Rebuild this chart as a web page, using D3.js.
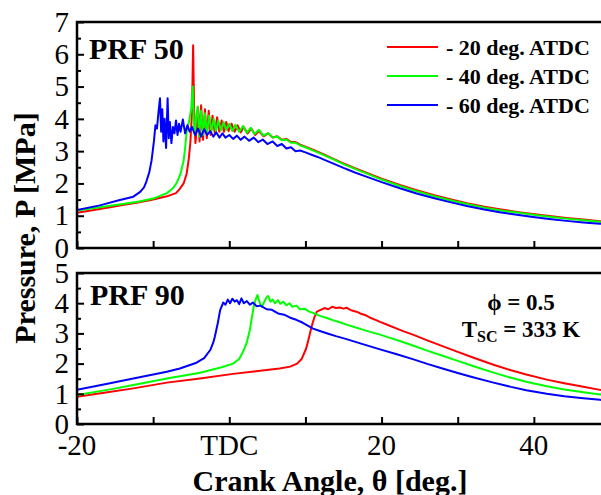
<!DOCTYPE html>
<html>
<head>
  <meta charset="utf-8">
  <style>
    body {
      margin: 0;
      background: #fff;
    }
    svg {
      display: block;
    }
    svg text {
      font-family: 'Liberation Serif', 'Tinos', 'DejaVu Serif', 'Times New Roman', serif;
    }
    .frame {
      fill: none;
      stroke: #000;
      stroke-width: 2.5px;
    }
    .axis path {
      display: none;
    }
    .axis line {
      stroke: #000;
      stroke-width: 2px;
    }
    .axis text {
      font-size: 29px;
      fill: #000;
    }
    .trace {
      fill: none;
      stroke-width: 2px;
      stroke-linejoin: round;
    }
    .lab {
      font-weight: bold;
      fill: #000;
    }
  </style>
</head>
<body>
  <script src="https://cdn.jsdelivr.net/npm/d3@7"></script>
  <script>

  // data: [crank angle (deg), pressure (MPa)]
  var seriesLabels = ["- 20 deg. ATDC", "- 40 deg. ATDC", "- 60 deg. ATDC"]

  var prf50_20 = [[-20,1.09],[-17,1.21],[-14,1.33],[-12,1.41],[-10,1.50],[-8.2,1.60],[-7,1.70],[-6.5,1.83],[-6,2.0],[-5.6,2.3],[-5.3,2.8],[-5.1,3.3],[-4.9,4.2],[-4.75,6.28],[-4.6,4.0],[-4.45,3.25],[-4.3,3.6],[-4.1,4.35],[-3.9,3.3],[-3.7,4.42],[-3.45,3.35],[-3.2,4.3],[-2.95,3.4],[-2.7,4.25],[-2.45,3.5],[-2.2,4.1],[-1.9,3.55],[-1.6,4.05],[-1.3,3.6],[-1.0,3.95],[-0.7,3.6],[-0.4,3.9],[-0.1,3.62],[0.3,3.85],[0.7,3.6],[1.1,3.8],[1.5,3.58],[1.9,3.75],[2.4,3.55],[2.9,3.7],[3.4,3.5],[3.9,3.62],[4.5,3.46],[5.1,3.55],[5.7,3.42],[6.3,3.46],[6.9,3.35],[7.5,3.38],[8.1,3.28],[8.7,3.28],[9.3,3.2],[10,3.14],[10.8,3.06],[11.6,2.98],[12.5,2.89],[13.6,2.77],[15,2.62],[16.5,2.47],[18,2.33],[20,2.15],[22.4,1.95],[24.6,1.79],[26.8,1.64],[29,1.51],[31.2,1.39],[33.5,1.28],[35.5,1.20],[38,1.11],[39.9,1.05],[42,0.99],[44.3,0.93],[46.5,0.88],[48.7,0.83],[50,0.81]]

  var prf50_40 = [[-20,1.16],[-17,1.26],[-14,1.36],[-12,1.43],[-10,1.53],[-8.2,1.70],[-7.4,1.85],[-6.9,2.02],[-6.4,2.3],[-6.0,2.7],[-5.8,3.1],[-5.6,3.6],[-5.3,3.9],[-5.0,4.3],[-4.8,5.0],[-4.65,3.9],[-4.5,3.5],[-4.35,4.1],[-4.15,4.38],[-3.95,3.45],[-3.7,4.25],[-3.45,3.5],[-3.2,4.17],[-2.95,3.55],[-2.65,4.1],[-2.35,3.6],[-2.05,4.0],[-1.75,3.62],[-1.45,3.95],[-1.1,3.65],[-0.75,3.9],[-0.4,3.66],[0,3.85],[0.4,3.62],[0.8,3.82],[1.3,3.6],[1.8,3.78],[2.3,3.57],[2.8,3.72],[3.3,3.53],[3.9,3.66],[4.5,3.48],[5.1,3.56],[5.7,3.42],[6.3,3.45],[6.9,3.34],[7.5,3.36],[8.1,3.26],[8.7,3.26],[9.3,3.18],[10,3.12],[10.8,3.04],[11.6,2.96],[12.5,2.87],[13.6,2.75],[15,2.60],[16.5,2.45],[18,2.31],[20,2.12],[22.4,1.92],[24.6,1.76],[26.8,1.61],[29,1.48],[31.2,1.36],[33.5,1.25],[35.5,1.17],[38,1.09],[39.9,1.03],[42,0.97],[44.3,0.91],[46.5,0.86],[48.7,0.81],[50,0.79]]

  var prf50_60 = [[-20,1.18],[-17,1.32],[-14.5,1.48],[-12.6,1.59],[-11.7,1.74],[-11.2,1.88],[-10.9,2.05],[-10.5,2.35],[-10.2,2.72],[-9.9,3.3],[-9.7,3.8],[-9.5,3.7],[-9.3,4.2],[-9.1,4.64],[-8.95,3.6],[-8.8,4.3],[-8.65,3.3],[-8.5,4.0],[-8.3,3.1],[-8.1,4.64],[-7.95,3.4],[-7.8,3.9],[-7.6,3.25],[-7.4,3.75],[-7.2,3.55],[-7.0,3.95],[-6.8,3.5],[-6.6,3.85],[-6.4,3.6],[-6.1,3.98],[-5.8,3.55],[-5.5,3.8],[-5.2,3.6],[-4.9,3.75],[-4.5,3.5],[-4.1,3.7],[-3.7,3.45],[-3.3,3.68],[-2.9,3.5],[-2.5,3.62],[-2.1,3.45],[-1.7,3.58],[-1.3,3.42],[-0.9,3.55],[-0.5,3.42],[0,3.5],[0.5,3.38],[1,3.48],[1.5,3.35],[2,3.45],[2.6,3.32],[3.2,3.42],[3.8,3.28],[4.4,3.36],[5,3.22],[5.7,3.3],[6.3,3.16],[6.9,3.22],[7.5,3.08],[8.1,3.12],[8.7,3.0],[9.3,3.02],[10,2.96],[10.8,2.89],[11.6,2.82],[12.5,2.73],[13.6,2.62],[15,2.48],[16.5,2.34],[18,2.21],[20,2.04],[22.4,1.85],[24.6,1.69],[26.8,1.55],[29,1.42],[31.2,1.30],[33.5,1.19],[35.5,1.11],[38,1.02],[39.9,0.96],[42,0.90],[44.3,0.84],[46.5,0.79],[48.7,0.75],[50,0.73]]

  var prf90_20 = [[-20,0.90],[-16,1.05],[-12.6,1.18],[-8.2,1.37],[-3.85,1.51],[0.5,1.66],[4.9,1.79],[6.6,1.84],[8,1.90],[8.9,2.0],[9.5,2.15],[10.1,2.5],[10.5,2.9],[10.8,3.22],[11.2,3.55],[11.5,3.72],[12.0,3.78],[12.5,3.84],[13,3.8],[13.5,3.88],[14,3.84],[14.5,3.86],[15,3.82],[15.4,3.85],[15.9,3.78],[16.3,3.74],[16.7,3.72],[17.2,3.66],[17.8,3.61],[18.5,3.52],[19.2,3.45],[19.8,3.38],[21,3.26],[22,3.16],[23,3.06],[24.2,2.95],[26,2.77],[28,2.58],[30,2.39],[32,2.20],[34.7,1.96],[37,1.78],[39,1.64],[41.7,1.47],[44,1.35],[46.5,1.23],[48.7,1.13],[50,1.08]]

  var prf90_40 = [[-20,0.96],[-16,1.13],[-12.6,1.29],[-8.2,1.51],[-3.85,1.70],[-1,1.88],[0.5,2.0],[1.3,2.15],[1.8,2.39],[2.3,2.7],[2.7,3.11],[3.2,3.88],[3.5,4.15],[3.7,4.27],[3.9,4.1],[4.1,3.95],[4.3,3.88],[4.6,4.05],[4.9,4.2],[5.1,4.24],[5.4,4.05],[5.7,4.12],[6,4.0],[6.4,4.1],[6.7,3.98],[7.1,4.05],[7.5,3.93],[7.9,4.0],[8.3,3.88],[8.8,3.92],[9.3,3.8],[9.9,3.82],[10.5,3.72],[11,3.68],[11.9,3.58],[12.8,3.51],[13.7,3.43],[14.5,3.37],[15.4,3.29],[16.3,3.22],[17.2,3.15],[18.5,3.05],[19.8,2.96],[21,2.86],[22.5,2.74],[24.2,2.59],[26,2.43],[28,2.26],[30,2.09],[32,1.92],[34.7,1.70],[37,1.53],[39,1.40],[41.7,1.25],[44,1.14],[46.5,1.05],[48.7,0.98],[50,0.95]]

  var prf90_60 = [[-20,1.13],[-16,1.33],[-12.6,1.51],[-8.2,1.73],[-6.5,1.84],[-4.3,2.03],[-3.3,2.18],[-2.5,2.45],[-2.1,2.7],[-1.9,2.89],[-1.5,3.35],[-1.2,3.77],[-0.8,4.02],[-0.5,3.95],[-0.2,4.12],[0.1,4.0],[0.4,4.15],[0.7,4.05],[1.0,4.1],[1.3,3.97],[1.6,4.16],[1.9,4.0],[2.3,4.07],[2.7,3.95],[3.1,4.02],[3.6,3.9],[4.1,3.92],[4.9,3.8],[5.6,3.78],[6.4,3.66],[7.2,3.62],[8,3.52],[8.8,3.45],[9.6,3.36],[10.3,3.26],[11,3.16],[12,3.07],[13,2.99],[14,2.91],[15.4,2.81],[17.2,2.67],[19.8,2.47],[22,2.31],[24.2,2.14],[26,1.99],[28,1.84],[30,1.69],[32,1.55],[34.7,1.37],[37,1.23],[39,1.12],[41.7,1.00],[44,0.92],[46.5,0.85],[48.7,0.80],[50,0.77]]

  var xTickVals = [-20, -10, 0, 10, 20, 30, 40, 50]
  var xLabelVals = [-20, 0, 20, 40]
  var xLabelText = ["-20", "TDC", "20", "40"]

  // layout
  var width = 601
  var height = 495
  var left = 77
  var right = 610
  var colors = ["#ff0000", "#00ff00", "#0000ff"]

  var svg = d3.select("body").append("svg")
    .attr("width", width)
    .attr("height", height)

  var x = d3.scaleLinear().domain([-20, 50]).range([left, right])

  function drawPanel(id, yMax, yTop, yBot, series, withLabels) {
    var y = d3.scaleLinear().domain([0, yMax]).range([yBot, yTop])

    svg.append("clipPath")
      .attr("id", "clip" + id)
      .append("rect")
      .attr("x", left)
      .attr("y", yTop)
      .attr("width", right - left)
      .attr("height", yBot - yTop)

    var line = d3.line()
      .x(function(d) { return x(d[0]) })
      .y(function(d) { return y(d[1]) })

    svg.append("g")
      .attr("clip-path", "url(#clip" + id + ")")
      .selectAll("path")
      .data(series)
      .join("path")
      .attr("class", "trace")
      .attr("stroke", function(d, i) { return colors[i] })
      .attr("d", line)

    // y ticks, inside
    svg.append("g")
      .attr("class", "axis")
      .attr("transform", "translate(" + left + ",0)")
      .call(d3.axisLeft(y).tickValues(d3.range(0, yMax + 1)).tickSize(-7).tickPadding(8).tickFormat(d3.format("d")))
    svg.append("g")
      .attr("class", "axis")
      .attr("transform", "translate(" + left + ",0)")
      .call(d3.axisLeft(y).tickValues(d3.range(0.5, yMax, 1)).tickSize(-4).tickFormat(""))

    // x ticks
    svg.append("g")
      .attr("class", "axis")
      .attr("transform", "translate(0," + yBot + ")")
      .call(d3.axisBottom(x).tickValues(xTickVals).tickSize(-7).tickFormat(""))

    if (withLabels) {
      svg.append("g")
        .selectAll("text")
        .data(xLabelVals)
        .join("text")
        .attr("x", function(d) { return x(d) })
        .attr("y", yBot + 31)
        .attr("text-anchor", "middle")
        .attr("font-size", 29)
        .text(function(d, i) { return xLabelText[i] })
    }

    svg.append("rect")
      .attr("class", "frame")
      .attr("x", left)
      .attr("y", yTop)
      .attr("width", right - left)
      .attr("height", yBot - yTop)
  }

  drawPanel("a", 7, 22, 248, [prf50_20, prf50_40, prf50_60], false)
  drawPanel("b", 5, 273, 424, [prf90_20, prf90_40, prf90_60], true)

  // panel labels
  svg.append("text").attr("class", "lab")
    .attr("x", 89).attr("y", 59).attr("font-size", 30)
    .text("PRF 50")
  svg.append("text").attr("class", "lab")
    .attr("x", 90).attr("y", 305).attr("font-size", 30)
    .text("PRF 90")

  // legend
  var leg = svg.append("g")
    .selectAll("g")
    .data(seriesLabels)
    .join("g")
    .attr("transform", function(d, i) { return "translate(387," + (47 + i * 29) + ")" })
  leg.append("line")
    .attr("x1", 0).attr("x2", 51)
    .attr("stroke", function(d, i) { return colors[i] })
    .attr("stroke-width", 2)
  leg.append("text")
    .attr("class", "lab")
    .attr("x", 59).attr("y", 8)
    .attr("font-size", 22)
    .text(function(d) { return d })

  // conditions
  svg.append("text").attr("class", "lab")
    .attr("x", 521).attr("y", 310).attr("font-size", 23)
    .attr("text-anchor", "middle")
    .text("\u03d5 = 0.5")
  var tsc = svg.append("text").attr("class", "lab")
    .attr("x", 521).attr("y", 337).attr("font-size", 23)
    .attr("text-anchor", "middle")
  tsc.append("tspan").text("T")
  tsc.append("tspan").attr("font-size", 16).attr("dy", 5).text("SC")
  tsc.append("tspan").attr("dy", -5).text(" = 333 K")

  // axis titles
  svg.append("text").attr("class", "lab")
    .attr("x", 330).attr("y", 491).attr("font-size", 30)
    .attr("text-anchor", "middle")
    .text("Crank Angle, \u03b8 [deg.]")
  svg.append("text").attr("class", "lab")
    .attr("transform", "translate(35,228) rotate(-90)")
    .attr("font-size", 30)
    .attr("text-anchor", "middle")
    .text("Pressure, P [MPa]")
  </script>
</body>
</html>
